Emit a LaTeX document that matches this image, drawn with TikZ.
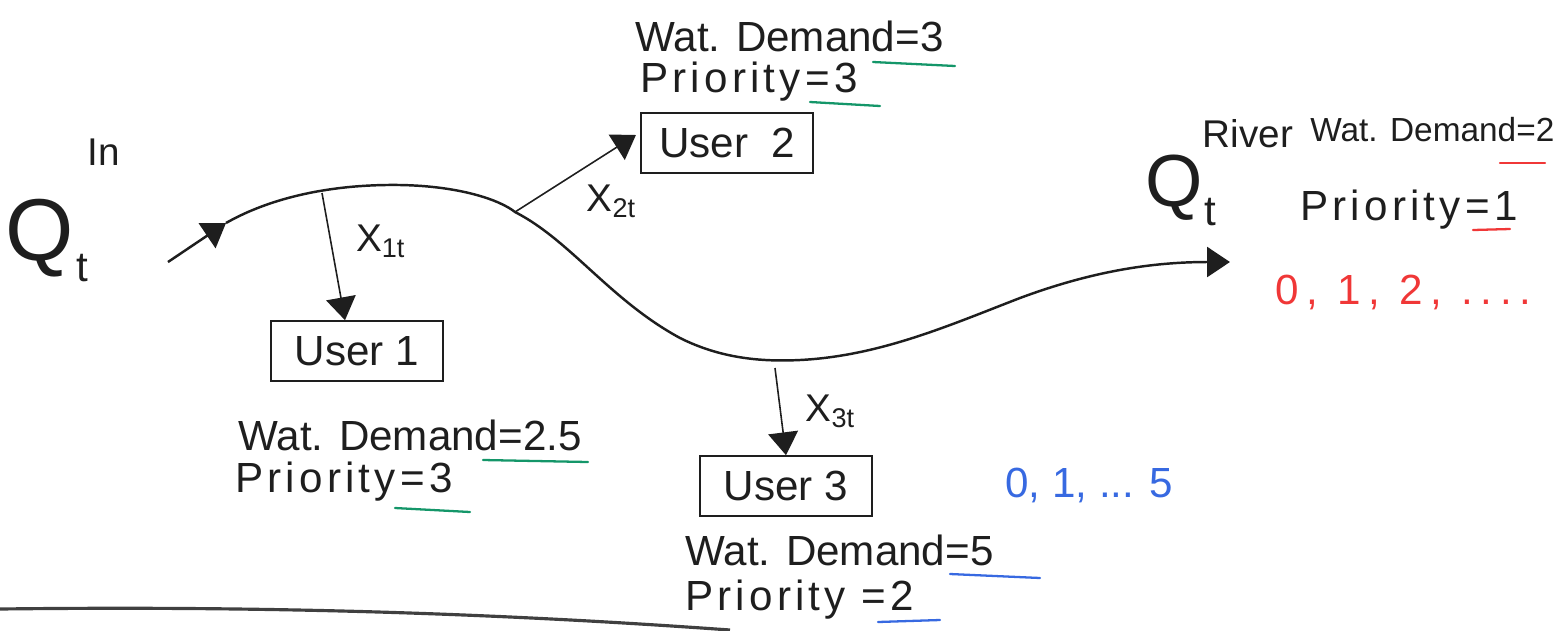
\documentclass[tikz,border=0pt]{standalone}
\usepackage{fontspec}
\setmainfont{Liberation Sans}
\usetikzlibrary{arrows.meta,calc}

\definecolor{ink}{RGB}{30,30,30}
\definecolor{markgreen}{RGB}{20,150,105}
\definecolor{markblue}{RGB}{55,105,225}
\definecolor{markred}{RGB}{240,55,55}

\tikzset{
  px/.style={x=0.02cm,y=-0.02cm},
  river/.style={draw=ink,line width=1.4pt},
  branch/.style={draw=ink,line width=0.9pt,-{Triangle[length=13pt,width=17pt]}},
  userbox/.style={draw=ink,line width=1.1pt,minimum width=98pt,minimum height=34pt,
    inner sep=2pt,font=\fontsize{24}{26}\selectfont,text=ink},
  note/.style={anchor=west,inner sep=0pt,text=ink,font=\fontsize{24}{26}\selectfont},
  prio/.style={anchor=west,inner sep=0pt,text=ink,
    font=\fontsize{24}{26}\selectfont\addfontfeatures{LetterSpace=10}},
  flowlbl/.style={inner sep=0pt,text=ink,font=\fontsize{22}{24}\selectfont},
  bigq/.style={inner sep=0pt,text=ink},
  underline/.style={line width=1.3pt,line cap=round},
}

\begin{document}
\begin{tikzpicture}[px]
\useasboundingbox (0,0) rectangle (1553,630);

% inflow and river labels
\node[bigq,font=\fontsize{50}{52}\selectfont] (qin) at (40,238) {Q};
\node[bigq,font=\fontsize{22}{24}\selectfont] (qinsup) at (104,152) {In};
\node[bigq,font=\fontsize{24}{26}\selectfont] (qinsub) at (82,268) {t};

\node[bigq,font=\fontsize{42}{44}\selectfont] (qr) at (1174,188) {Q};
\node[bigq,font=\fontsize{22}{24}\selectfont] (qrsup) at (1248,134) {River};
\node[bigq,font=\fontsize{24}{26}\selectfont] (qrsub) at (1210,212) {t};

% user boxes
\node[userbox] (b1) at (357,351) {User 1};
\node[userbox] (b2) at (727,143) {User\ \ 2};
\node[userbox] (b3) at (786,486) {User 3};

% river course
\coordinate (rs) at (168,262);
\coordinate (p1) at (226,223);
\coordinate (x1s) at (322,193);
\coordinate (x2s) at (515,212);
\coordinate (x3s) at (775,368);
\coordinate (re) at (1230,262);

\draw[river,-{Triangle[length=13pt,width=17pt]}] (rs) -- (p1);
\draw[river,-{Triangle[length=13pt,width=17pt]}]
  (p1) .. controls (270,198) and (330,184) .. (400,185)
       .. controls (460,186) and (500,200) .. (x2s)
       .. controls (570,240) and (610,300) .. (680,338)
       .. controls (720,358) and (760,362) .. (800,360)
       .. controls (880,356) and (950,325) .. (1020,298)
       .. controls (1090,272) and (1150,262) .. (re);

% withdrawals
\draw[branch] (x1s) -- ($(b1.north)+(-12,0)$) node[flowlbl,pos=0.38,right=14pt] {X\textsubscript{1t}};
\draw[branch] (x2s) -- ($(b2.west)+(-4,-8)$) node[flowlbl,pos=0.5,below right=6pt] {X\textsubscript{2t}};
\draw[branch] (x3s) -- (b3.north) node[flowlbl,pos=0.5,right=14pt] {X\textsubscript{3t}};

% user 1 attributes
\node[note] (d1) at (238,435) {Wat. Demand=2.5};
\node[prio] (r1) at (235,482) {Priority=3};
\draw[underline,markgreen] (483,460) -- (588,462);
\draw[underline,markgreen] (395,508) -- (470,512);

% user 2 attributes
\node[note] (d2) at (635,36) {Wat. Demand=3};
\node[prio] (r2) at (640,82) {Priority=3};
\draw[underline,markgreen] (873,62) -- (955,66);
\draw[underline,markgreen] (810,102) -- (880,106);

% user 3 attributes
\node[note] (d3) at (685,550) {Wat. Demand=5};
\node[prio] (r3) at (685,600) {Priority =2};
\draw[underline,markblue] (950,574) -- (1040,578);
\draw[underline,markblue] (878,622) -- (940,620);
\node[note,text=markblue] (v3) at (1005,485) {0, 1, ... 5};

% river attributes
\node[note,font=\fontsize{19}{21}\selectfont] (dr) at (1310,130) {Wat. Demand=2};
\node[prio] (rr) at (1300,210) {Priority=1};
\draw[underline,markred] (1500,163) -- (1545,163);
\draw[underline,markred] (1473,230) -- (1510,229);
\node[note,text=markred,font=\fontsize{24}{26}\selectfont\addfontfeatures{LetterSpace=18}] (vr) at (1275,292) {0, 1, 2, ....};

% separator line along the bottom
\coordinate (sl) at (0,609);
\coordinate (sr) at (730,630);
\draw[draw=ink!85,line width=1.8pt] (sl) .. controls (250,606) and (480,612) .. (sr);
\end{tikzpicture}
\end{document}
